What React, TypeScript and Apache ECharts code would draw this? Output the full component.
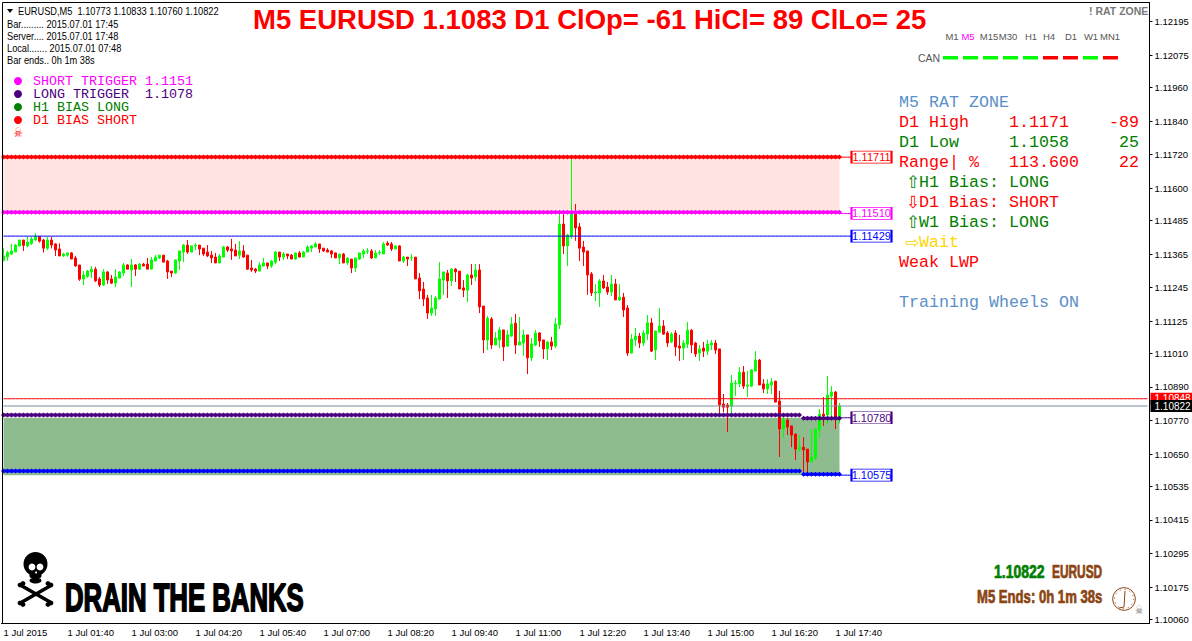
import React, { useEffect, useRef } from "react";
import * as echarts from "echarts";

// Prices are in points (1/100000). Each row: open, close, low, high.
const barsNight = [
[111341,111358,111341,111386],[111355,111370,111341,111377],[111365,111376,111361,111401],[111373,111397,111371,111401],[111394,111415,111391,111415],
[111415,111396,111376,111415],[111394,111408,111389,111427],[111403,111419,111397,111427],[111415,111427,111413,111439],[111427,111411,111406,111427],
[111415,111386,111370,111419],[111386,111415,111379,111427],[111415,111397,111385,111427],[111401,111379,111358,111403],[111383,111358,111358,111403],
[111358,111365,111355,111369],[111361,111369,111355,111369],[111369,111347,111347,111372],[111351,111322,111320,111358],[111326,111275,111269,111326],
[111276,111290,111254,111304],[111285,111304,111280,111308],[111301,111311,111279,111322],[111311,111269,111265,111319],[111276,111254,111247,111283],
[111254,111301,111251,111311],[111301,111272,111258,111304],[111276,111261,111258,111290],[111261,111283,111247,111311],[111279,111301,111279,111304],
[111297,111326,111286,111333],[111326,111311,111311,111329],[111308,111326,111247,111347],[111326,111311,111286,111329],[111311,111329,111308,111333],
[111329,111322,111322,111333],[111329,111311,111311,111351],[111311,111344,111311,111354],[111340,111354,111340,111361],[111351,111361,111347,111361],
[111361,111336,111336,111361],[111340,111301,111276,111344],[111304,111297,111283,111304],[111297,111344,111294,111344],[111340,111376,111308,111376],
[111372,111397,111336,111401],[111397,111372,111365,111415],[111372,111394,111372,111394],[111394,111397,111379,111404],[111397,111383,111361,111397],
[111386,111365,111358,111386],[111372,111358,111354,111397],
];
const barsAsia = [
[111361,111351,111333,111376],[111354,111333,111333,111369],[111333,111358,111333,111365],[111354,111390,111354,111394],[111390,111379,111372,111394],
[111383,111376,111344,111419],[111379,111358,111358,111401],[111361,111376,111347,111411],[111376,111354,111351,111397],[111361,111311,111308,111361],
[111315,111308,111301,111344],[111311,111304,111297,111315],[111304,111326,111304,111336],[111322,111333,111322,111351],[111333,111322,111311,111333],
[111322,111340,111315,111344],[111336,111372,111329,111376],[111372,111354,111340,111372],[111354,111365,111344,111372],[111365,111358,111347,111365],
[111361,111347,111347,111365],[111347,111369,111344,111369],[111369,111354,111354,111376],[111354,111372,111354,111376],[111372,111390,111372,111397],
[111386,111394,111372,111397],[111390,111401,111390,111408],[111401,111383,111369,111401],[111386,111376,111372,111386],[111379,111372,111372,111386],
[111376,111365,111351,111379],[111369,111351,111351,111369],[111351,111365,111329,111365],[111365,111333,111333,111369],[111333,111351,111326,111351],
[111347,111315,111297,111347],[111315,111351,111301,111351],[111347,111369,111344,111369],[111365,111376,111351,111383],[111375,111376,111365,111386],
[111376,111351,111347,111383],[111351,111369,111351,111379],[111369,111370,111361,111379],[111365,111401,111365,111408],[111404,111397,111394,111411],
[111401,111383,111376,111408],[111383,111394,111383,111397],[111394,111340,111340,111397],[111340,111354,111333,111358],[111354,111347,111322,111354],
[111351,111352,111340,111365],
];
const barsLondon = [
[111354,111276,111276,111354],[111279,111233,111204,111297],[111240,111204,111179,111265],[111208,111154,111133,111219],[111154,111172,111144,111219],
[111169,111208,111144,111215],[111204,111276,111204,111336],[111272,111301,111219,111301],[111297,111269,111208,111308],[111269,111311,111251,111315],
[111311,111301,111265,111315],[111304,111240,111240,111304],[111244,111236,111211,111272],[111236,111290,111194,111294],[111290,111279,111254,111329],
[111283,111308,111269,111329],[111308,111176,111154,111329],[111179,111058,111011,111179],[111058,111136,111022,111144],[111133,111040,111026,111140],
[111040,111065,111040,111086],[111058,111094,111029,111104],[111094,111033,110983,111094],[111036,111076,111033,111094],[111072,111115,111069,111140],
[111118,111040,111008,111151],[111040,111051,111040,111140],[111047,111076,111001,111094],[111076,110994,110936,111076],[110994,111044,110983,111065],
[111040,111083,111036,111094],[111083,111054,111033,111086],[111058,111026,110990,111058],[111026,111051,110986,111054],[111051,111036,111022,111069],
[111036,111115,111029,111136],[111111,111472,111097,111508],[111472,111394,111365,111508],[111394,111433,111322,111437],[111429,111508,111419,111711],
[111508,111458,111412,111544],[111462,111386,111340,111476],[111390,111372,111322,111412],[111376,111290,111219,111376],[111294,111226,111215,111301],
[111226,111229,111197,111258],[111226,111269,111176,111276],[111269,111244,111240,111290],[111247,111229,111219,111265],[111229,111258,111215,111290],
[111258,111201,111201,111276],[111201,111211,111197,111258],[111211,111165,111140,111226],[111172,111011,111001,111183],
];
const barsNewYork = [
[111011,111061,111011,111079],[111058,111072,111036,111101],[111072,111047,111029,111083],[111047,111083,111036,111093],[111079,111119,111058,111147],
[111119,111018,111015,111136],[111022,111090,110986,111090],[111086,111108,111083,111172],[111108,111079,111076,111129],[111083,111047,111033,111090],
[111051,111079,111047,111086],[111083,111033,111001,111093],[111036,111029,110983,111076],[111029,111047,110986,111058],[111043,111093,111029,111122],
[111093,111040,111011,111097],[111047,111008,110997,111051],[111011,111026,110983,111040],[111029,111018,110997,111051],[111018,111043,111004,111058],
[111040,111047,111022,111058],[111047,111022,111008,111058],[111026,110826,110793,111026],[110829,110818,110800,110865],[110826,110818,110729,110833],
[110822,110904,110793,110933],[110901,110904,110858,110915],[110901,110943,110890,110961],[110943,110893,110883,110965],[110893,110897,110854,110947],
[110893,110951,110890,110954],[110947,110986,110947,111018],[110986,110897,110897,110990],[110901,110883,110868,110918],[110883,110901,110865,110918],
[110897,110908,110865,110922],[110911,110836,110836,110911],[110840,110740,110640,110876],[110740,110775,110708,110790],[110772,110747,110718,110779],
[110751,110718,110675,110751],[110722,110668,110629,110722],[110668,110675,110658,110718],[110675,110665,110579,110711],[110668,110622,110579,110668],
[110622,110640,110622,110740],[110636,110740,110629,110740],[110736,110793,110708,110811],[110793,110786,110751,110854],[110790,110861,110758,110929],
[110858,110872,110772,110893],[110872,110779,110740,110876],[110773,110822,110760,110833],
];

const priceTicks = [1.12195,1.12075,1.1196,1.1184,1.1172,1.116,1.11485,1.11365,1.11245,1.11125,1.1101,1.1089,1.1077,1.1065,1.10535,1.10415,1.10295,1.10175,1.1006];
const timeLabels = ["1 Jul 2015","1 Jul 01:40","1 Jul 03:00","1 Jul 04:20","1 Jul 05:40","1 Jul 07:00","1 Jul 08:20","1 Jul 09:40","1 Jul 11:00","1 Jul 12:20","1 Jul 13:40","1 Jul 15:00","1 Jul 16:20","1 Jul 17:40"];
const timeframes: [string, number, string][] = [["M1",952,"#555"],["M5",968,"#FF00FF"],["M15",989,"#555"],["M30",1008,"#555"],["H1",1031,"#555"],["H4",1049,"#555"],["D1",1071,"#555"],["W1",1091,"#555"],["MN1",1110,"#555"]];
const canColors = ["#00FF00","#00FF00","#00FF00","#00FF00","#00FF00","#FF0000","#FF0000","#00FF00","#FF0000"];

const MONO = "'Liberation Mono'";
const UI = "'Liberation Sans'";
const HEAVY = "'Liberation Sans'";
const SIENNA = "#8B4513";
const STEEL = "#5B8FC9";

const candleData = [...barsNight, ...barsAsia, ...barsLondon, ...barsNewYork].map((r) => r.map((v) => v / 100000));
const slots = Array.from({ length: 287 }, (_, i) => String(i));

function levelSeries(from: number, to: number, value: number, color: string, dotted: boolean) {
  const data: number[][] = [];
  for (let i = from; i <= to; i++) data.push([i, value]);
  return {
    type: "line", data, z: 4, silent: true, animation: false,
    showSymbol: dotted, showAllSymbol: true, symbol: "diamond", symbolSize: 5,
    itemStyle: { color },
    lineStyle: { color, width: dotted ? 3 : 1 },
  };
}

function priceTag(value: number, color: string, bg: string) {
  const s: any = levelSeries(0, 286, value, color, false);
  s.z = 5;
  s.endLabel = {
    show: true, formatter: value.toFixed(5), color: "#fff", backgroundColor: bg,
    fontFamily: UI, fontSize: 10, padding: [1, 4, 1, 4], distance: 3,
  };
  return s;
}

function boxLabel(text: string, value: number, color: string) {
  return {
    coord: [217, value], symbol: "rect", symbolSize: [40, 12],
    itemStyle: { color: "#fff", borderColor: color, borderWidth: 1.2 },
    label: { show: true, position: "inside", formatter: text, color, fontFamily: UI, fontSize: 11 },
  };
}

function txt(x: number, y: number, text: string, fill: string, fontSize: number, fontFamily: string, extra: any = {}, styleExtra: any = {}) {
  return { type: "text", x, y, silent: true, z: 20, ...extra, style: { text, fill, fontSize, fontFamily, verticalAlign: "middle", align: "left", ...styleExtra } };
}
const heavy = (x: number, y: number, text: string, fill: string, size: number, scaleX = 1, lw = 0.8) =>
  txt(x, y, text, fill, size, HEAVY, { scaleX }, { fontWeight: "bold", stroke: fill, lineWidth: lw });

function skullShapes() {
  const ink = { silent: true, z: 20, style: { fill: "#000" } };
  const bone = (x1: number, y1: number, x2: number, y2: number) => ({
    type: "line", silent: true, z: 20, shape: { x1, y1, x2, y2 }, style: { stroke: "#000", lineWidth: 3.6, lineCap: "round" },
  });
  const knob = (cx: number, cy: number) => ({ type: "circle", ...ink, shape: { cx, cy, r: 2.4 } });
  const hole = (cx: number, cy: number, r: number) => ({ type: "circle", silent: true, z: 21, shape: { cx, cy, r }, style: { fill: "#fff" } });
  return [
    { type: "ellipse", ...ink, shape: { cx: 35.5, cy: 564, rx: 12, ry: 12 } },
    { type: "rect", ...ink, shape: { x: 29.5, y: 572, width: 12, height: 6, r: 2 } },
    { type: "ellipse", ...ink, shape: { cx: 35.5, cy: 580.5, rx: 6, ry: 3 } },
    hole(32, 567, 3.4), hole(40, 567, 3.4), hole(36, 572.5, 1),
    bone(22, 586, 50, 602), bone(50, 586, 22, 602),
    knob(20, 585), knob(23, 583.5), knob(51, 585), knob(48, 583.5),
    knob(20, 603), knob(23, 604.5), knob(51, 603), knob(48, 604.5),
  ];
}

function buildGraphics() {
  const g: any[] = [];
  g.push({ type: "rect", silent: true, z: 19, shape: { x: 2.5, y: 2.5, width: 1147, height: 621 }, style: { fill: "none", stroke: "#000", lineWidth: 1 } });
  g.push({ type: "polygon", silent: true, z: 20, shape: { points: [[7, 9], [13, 9], [10, 13]] }, style: { fill: "#000" } });
  const info = { scaleX: 0.88 };
  g.push(txt(18, 11, "EURUSD,M5  1.10773 1.10833 1.10760 1.10822", "#000", 10.5, UI, info));
  g.push(txt(7, 24, "Bar......... 2015.07.01 17:45", "#000", 10.5, UI, info));
  g.push(txt(7, 36, "Server.... 2015.07.01 17:48", "#000", 10.5, UI, info));
  g.push(txt(7, 48, "Local....... 2015.07.01 07:48", "#000", 10.5, UI, info));
  g.push(txt(7, 60, "Bar ends.. 0h 1m 38s", "#000", 10.5, UI, info));
  g.push(txt(253, 19, "M5 EURUSD 1.1083 D1 ClOp= -61 HiCl= 89 ClLo= 25", "#FF0000", 27.5, UI, {}, { fontWeight: "bold" }));
  g.push(txt(1089, 11, "! RAT ZONE", "#777", 10.5, UI, {}, { fontWeight: "bold" }));

  const legend: [number, string, string][] = [[81, "SHORT TRIGGER 1.1151", "#FF00FF"], [94, "LONG TRIGGER  1.1078", "#4B0082"], [107, "H1 BIAS LONG", "#008000"], [120, "D1 BIAS SHORT", "#FF0000"]];
  legend.forEach(([y, t, c]) => {
    g.push({ type: "circle", silent: true, z: 20, shape: { cx: 18, cy: y, r: 4 }, style: { fill: c } });
    g.push(txt(33, y, t, c, 13.33, MONO));
  });
  g.push(txt(18, 132, "☠", "#FF0000", 13, "'DejaVu Sans'", { scaleX: 0.75 }, { align: "center" }));

  timeframes.forEach(([t, x, c]) => g.push(txt(x, 36, t, c, 9.5, UI, {}, { align: "center" })));
  g.push(txt(918, 58, "CAN", "#555", 10.5, UI));
  canColors.forEach((c, i) => g.push({ type: "rect", silent: true, z: 20, shape: { x: 943 + 20 * i, y: 56, width: 15, height: 3.5 }, style: { fill: c } }));

  const P = 16.67;
  g.push(txt(899, 102, "M5 RAT ZONE", STEEL, P, MONO));
  g.push(txt(899, 122, "D1 High", "#FF0000", P, MONO));
  g.push(txt(1009, 122, "1.1171", "#FF0000", P, MONO));
  g.push(txt(1139, 122, "-89", "#FF0000", P, MONO, {}, { align: "right" }));
  g.push(txt(899, 142, "D1 Low", "#008000", P, MONO));
  g.push(txt(1009, 142, "1.1058", "#008000", P, MONO));
  g.push(txt(1139, 142, "25", "#008000", P, MONO, {}, { align: "right" }));
  g.push(txt(899, 162, "Range| %", "#FF0000", P, MONO));
  g.push(txt(1009, 162, "113.600", "#FF0000", P, MONO));
  g.push(txt(1139, 162, "22", "#FF0000", P, MONO, {}, { align: "right" }));
  g.push(txt(906, 182, "⇧", "#008000", 17, "'DejaVu Sans'"));
  g.push(txt(919, 182, "H1 Bias: LONG", "#008000", P, MONO));
  g.push(txt(906, 202, "⇩", "#FF0000", 17, "'DejaVu Sans'"));
  g.push(txt(919, 202, "D1 Bias: SHORT", "#FF0000", P, MONO));
  g.push(txt(906, 222, "⇧", "#008000", 17, "'DejaVu Sans'"));
  g.push(txt(919, 222, "W1 Bias: LONG", "#008000", P, MONO));
  g.push(txt(905, 242, "⇨", "#FFD700", 17, "'DejaVu Sans'"));
  g.push(txt(919, 242, "Wait", "#FFD700", P, MONO));
  g.push(txt(899, 262, "Weak LWP", "#FF0000", P, MONO));
  g.push(txt(899, 302, "Training Wheels ON", STEEL, P, MONO));

  g.push(...skullShapes());
  g.push(heavy(65, 597, "DRAIN THE BANKS", "#000", 39, 0.66, 1.8));
  g.push(heavy(994, 572, "1.10822", "#008000", 17.5, 0.8, 0.7));
  g.push(heavy(1052, 572, "EURUSD", SIENNA, 17.5, 0.68, 0.7));
  g.push(heavy(977, 597, "M5 Ends: 0h 1m 38s", SIENNA, 17.5, 0.75, 0.7));

  g.push({ type: "circle", silent: true, z: 20, shape: { cx: 1124, cy: 599, r: 11.3 }, style: { fill: "none", stroke: SIENNA, lineWidth: 1 } });
  g.push({ type: "circle", silent: true, z: 20, shape: { cx: 1124, cy: 599, r: 9.5 }, style: { fill: "none", stroke: SIENNA, lineWidth: 1, lineDash: [1, 4] } });
  g.push({ type: "polyline", silent: true, z: 20, shape: { points: [[1125, 591], [1124, 607], [1119, 608]] }, style: { fill: "none", stroke: SIENNA, lineWidth: 1 } });
  g.push(txt(1139, 609, "☠", "#777", 12, "'DejaVu Sans'", { scaleX: 0.75 }, { align: "center" }));
  return g;
}

function buildOption(): any {
  const anchor: any = levelSeries(0, 209, 1.11712, "#FF0000", true);
  anchor.markArea = {
    silent: true, z: 1,
    data: [
      [{ coord: [0, 1.11711], itemStyle: { color: "#FFE4E1" } }, { coord: [209, 1.1151] }],
      [{ coord: [0, 1.1078], itemStyle: { color: "#8FBC8F" } }, { coord: [209, 1.10575] }],
    ],
  };
  const markers: any = levelSeries(209, 217, 1.11711, "#FF0000", false);
  markers.markPoint = {
    silent: true, z: 6,
    data: [
      boxLabel("1.11711", 1.11711, "#FF0000"),
      boxLabel("1.11510", 1.1151, "#FF00FF"),
      boxLabel("1.11429", 1.11429, "#0000FF"),
      boxLabel("1.10780", 1.1078, "#4B0082"),
      boxLabel("1.10575", 1.10575, "#0000FF"),
    ],
  };
  return {
    animation: false,
    backgroundColor: "#fff",
    grid: { left: 1.5, top: 2.5, width: 1148, height: 621, outerBoundsMode: "none" },
    xAxis: {
      type: "category", data: slots, boundaryGap: true,
      axisLine: { show: true, lineStyle: { color: "#000" } },
      axisTick: { alignWithLabel: true, length: 3, interval: (i: number) => i % 16 === 0 && i <= 208, lineStyle: { color: "#000" } },
      axisLabel: {
        interval: (i: number) => i % 16 === 0 && i <= 208,
        formatter: (_: string, i: number) => timeLabels[i / 16] ?? "",
        align: "left", color: "#000", fontFamily: UI, fontSize: 9.5, margin: 4, hideOverlap: false,
      },
      splitLine: { show: false },
    },
    yAxis: {
      type: "value", position: "right", min: 1.10045, max: 1.122636, scale: true,
      axisLine: { show: true, lineStyle: { color: "#000" } },
      axisTick: { show: true, length: 3, customValues: priceTicks, lineStyle: { color: "#000" } },
      axisLabel: { customValues: priceTicks, formatter: (v: number) => v.toFixed(5), color: "#000", fontFamily: UI, fontSize: 9.5, margin: 5 },
      splitLine: { show: false },
    },
    series: [
      anchor,
      {
        type: "candlestick", data: candleData, z: 3, barWidth: 2, silent: true,
        itemStyle: { color: "#00FF00", color0: "#FF0000", borderColor: "#00FF00", borderColor0: "#FF0000", borderWidth: 1 },
      },
      levelSeries(0, 209, 1.11514, "#FF00FF", true),
      levelSeries(0, 199, 1.1079, "#4B0082", true),
      levelSeries(200, 209, 1.10778, "#4B0082", true),
      levelSeries(0, 199, 1.1059, "#0000FF", true),
      levelSeries(200, 209, 1.10578, "#0000FF", true),
      levelSeries(0, 217, 1.11429, "#0000FF", false),
      markers,
      levelSeries(209, 217, 1.1151, "#FF00FF", false),
      levelSeries(209, 217, 1.1078, "#4B0082", false),
      levelSeries(209, 217, 1.10575, "#0000FF", false),
      priceTag(1.10848, "#FF0000", "#FF0000"),
      priceTag(1.10822, "#778899", "#000"),
    ],
    graphic: buildGraphics(),
  };
}

export default function App() {
  const ref = useRef<HTMLDivElement>(null);
  useEffect(() => {
    document.body.style.margin = "0";
    const chart = echarts.init(ref.current!, undefined, { renderer: "svg" });
    chart.setOption(buildOption());
    return () => chart.dispose();
  }, []);
  return <div ref={ref} style={{ width: 1192, height: 641 }} />;
}
